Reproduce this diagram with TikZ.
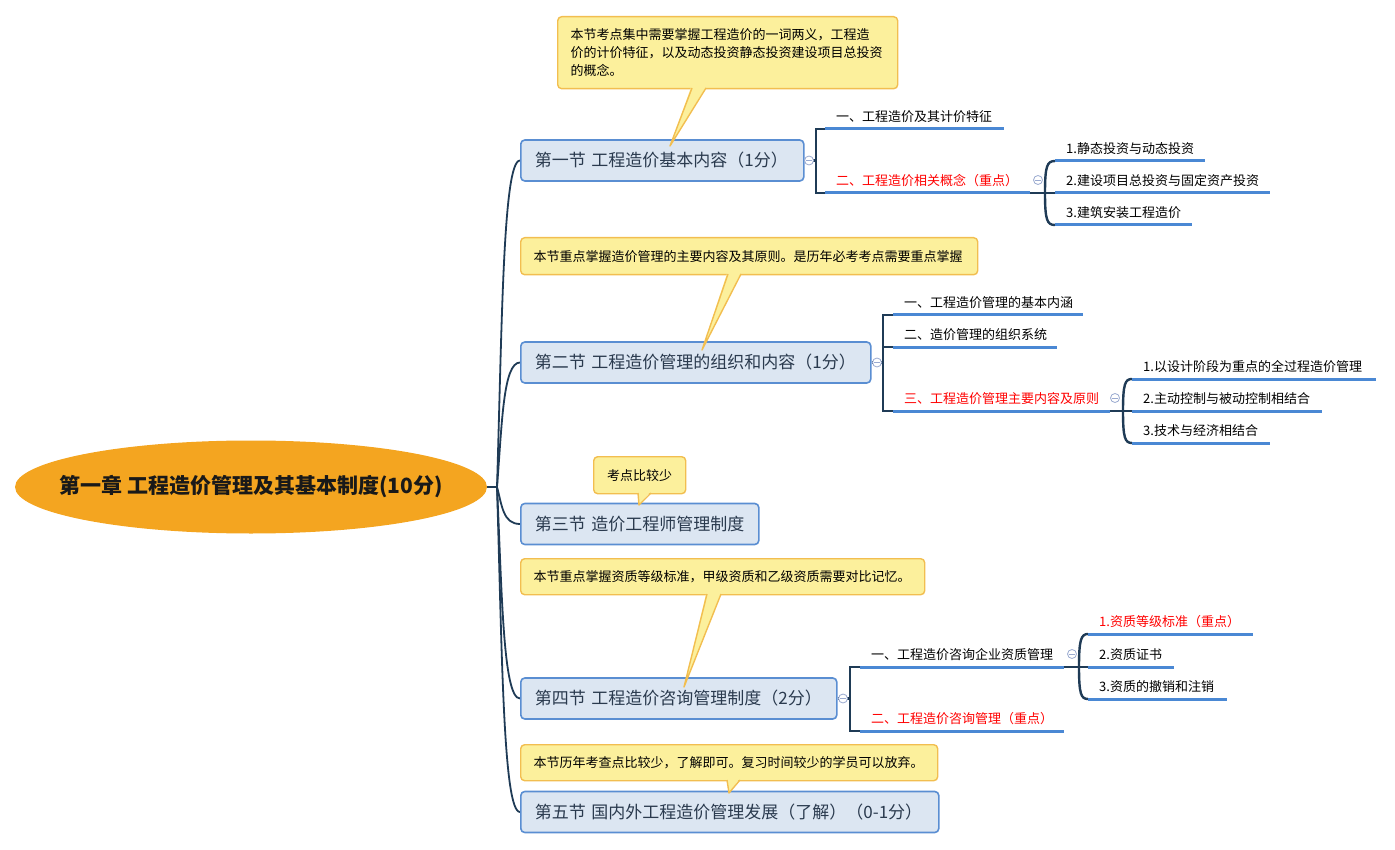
\documentclass[tikz,border=0pt]{standalone}
\usepackage{fontspec}
\setmainfont{Noto Sans CJK SC}
\usetikzlibrary{shapes.geometric,backgrounds}
\definecolor{rootc}{HTML}{F4A520}
\definecolor{secfill}{HTML}{DCE6F2}
\definecolor{secline}{HTML}{5A8ED2}
\definecolor{sectext}{HTML}{2A3A4E}
\definecolor{callfill}{HTML}{FCF09C}
\definecolor{callline}{HTML}{F2BE50}
\definecolor{ulc}{HTML}{4A88D4}
\definecolor{brkc}{HTML}{1F3B56}
\definecolor{kcline}{HTML}{9AAAD0}
\definecolor{hotred}{HTML}{FF0000}
\begin{document}
\begin{tikzpicture}[x=1pt,y=-1pt,
  rootnode/.style={ellipse, fill=rootc, minimum width=472pt, minimum height=93pt, inner sep=0pt, font=\fontsize{21}{25}\selectfont\bfseries, text=black!90},
  secnode/.style={anchor=west, rounded corners=4pt, fill=secfill, draw=secline, line width=1.6pt, inner xsep=14pt, inner ysep=0pt, minimum height=41pt, align=left, text=sectext, font=\fontsize{17}{20}\selectfont},
  itemnode/.style={anchor=west, inner xsep=11pt, inner ysep=0pt, align=left, font=\fontsize{13}{16}\selectfont, text=black},
  hot/.style={text=hotred},
  callnode/.style={anchor=north west, rounded corners=4pt, fill=callfill, draw=callline, line width=1.4pt, inner xsep=13pt, inner ysep=0pt, font=\fontsize{13}{18}\selectfont, align=left, text=black},
  kcnode/.style={circle, draw=kcline, fill=white, line width=0.8pt, minimum size=9pt, inner sep=0pt},
  uline/.style={line width=3pt, draw=ulc},
  brk/.style={line width=2.4pt, draw=brkc},
  trunk/.style={line width=1.8pt, draw=brkc},
  ptr/.style={draw=callline, line width=1.4pt, line join=round}
]
\useasboundingbox (0,0) rectangle (1395,850);

% root
\node[rootnode] (root) at (251,487) {\makebox[0pt]{第一章 工程造价管理及其基本制度(10分)}};
\coordinate (tr) at (497,487);

% sections
\node[secnode, text width=255pt] (s1) at (520,160.5) {第一节 工程造价基本内容（1分）};
\node[secnode, text width=322pt] (s2) at (520,362.5) {第二节 工程造价管理的组织和内容（1分）};
\node[secnode, text width=210pt] (s3) at (520,524) {第三节 造价工程师管理制度};
\node[secnode, text width=288pt] (s4) at (520,698.5) {第四节 工程造价咨询管理制度（2分）};
\node[secnode, text width=390pt] (s5) at (520,812) {第五节 国内外工程造价管理发展（了解）（0-1分）};

% items
\node[itemnode, text width=157pt] (n11) at (825,116.5) {一、工程造价及其计价特征};
\node[itemnode, hot, text width=183pt] (n12) at (825,180.5) {二、工程造价相关概念（重点）};
\node[itemnode, text width=128pt] (n121) at (1055,148.5) {1.静态投资与动态投资};
\node[itemnode, text width=193pt] (n122) at (1055,180.5) {2.建设项目总投资与固定资产投资};
\node[itemnode, text width=115pt] (n123) at (1055,212.5) {3.建筑安装工程造价};

\node[itemnode, text width=168pt] (n21) at (893,302.5) {一、工程造价管理的基本内涵};
\node[itemnode, text width=142pt] (n22) at (893,334.5) {二、造价管理的组织系统};
\node[itemnode, hot, text width=195pt] (n23) at (893,398.5) {三、工程造价管理主要内容及原则};
\node[itemnode, text width=222pt] (n231) at (1132,366.5) {1.以设计阶段为重点的全过程造价管理};
\node[itemnode, text width=168pt] (n232) at (1132,398.5) {2.主动控制与被动控制相结合};
\node[itemnode, text width=116pt] (n233) at (1132,430.5) {3.技术与经济相结合};

\node[itemnode, text width=182pt] (n41) at (860,654.5) {一、工程造价咨询企业资质管理};
\node[itemnode, hot, text width=182pt] (n42) at (860,718.5) {二、工程造价咨询管理（重点）};
\node[itemnode, hot, text width=143pt] (n411) at (1088,621.5) {1.资质等级标准（重点）};
\node[itemnode, text width=64pt] (n412) at (1088,654.5) {2.资质证书};
\node[itemnode, text width=117pt] (n413) at (1088,686.5) {3.资质的撤销和注销};

% collapse circles
\node[kcnode] (k1) at (809,160.5) {};
\node[kcnode] (k12) at (1038,180) {};
\node[kcnode] (k2) at (877,362.5) {};
\node[kcnode] (k23) at (1115,398) {};
\node[kcnode] (k4) at (843,698.5) {};
\node[kcnode] (k41) at (1072,654) {};
\foreach \k in {k1,k12,k2,k23,k4,k41}
  \draw[kcline, line width=0.8pt] ([xshift=-2.6pt]\k.center) -- ([xshift=2.6pt]\k.center);

\begin{scope}[on background layer]
  % trunk
  \draw[trunk] (root.east) -- (tr);
  \draw[trunk] (tr) .. controls (502,324) and (503,160.5) .. (s1.west);
  \draw[trunk] (tr) .. controls (502,425) and (503,362.5) .. (s2.west);
  \draw[trunk] (tr) .. controls (502,505.5) and (503,524) .. (s3.west);
  \draw[trunk] (tr) .. controls (502,593) and (503,698.5) .. (s4.west);
  \draw[trunk] (tr) .. controls (502,649.5) and (503,812) .. (s5.west);
  % section 1
  \coordinate (b1) at (816,160.5);
  \draw[brk] (s1.east) -- (b1);
  \draw[brk] ([yshift=-12.5pt]n11.west) -| (b1) |- ([yshift=-12.5pt]n12.west);
  \coordinate (j1) at (1045,193);
  \draw[brk] ([yshift=-12.5pt]n12.east) -- ([yshift=-12.5pt]n122.west);
  \draw[brk] (j1) .. controls (1045,166) and (1047,161) .. ([yshift=-12.5pt]n121.west);
  \draw[brk] (j1) .. controls (1045,220) and (1047,225) .. ([yshift=-12.5pt]n123.west);
  % section 2
  \coordinate (b2) at (883,362.5);
  \draw[brk] (s2.east) -- (b2);
  \draw[brk] ([yshift=-12.5pt]n21.west) -| (b2) |- ([yshift=-12.5pt]n23.west);
  \draw[brk] ([yshift=-12.5pt]n22.west) -- (883,347);
  \coordinate (j2) at (1123,411);
  \draw[brk] ([yshift=-12.5pt]n23.east) -- ([yshift=-12.5pt]n232.west);
  \draw[brk] (j2) .. controls (1123,384) and (1125,379) .. ([yshift=-12.5pt]n231.west);
  \draw[brk] (j2) .. controls (1123,438) and (1125,443) .. ([yshift=-12.5pt]n233.west);
  % section 4
  \coordinate (b4) at (850,698.5);
  \draw[brk] (s4.east) -- (b4);
  \draw[brk] ([yshift=-12.5pt]n41.west) -| (b4) |- ([yshift=-12.5pt]n42.west);
  \coordinate (j4) at (1079,667);
  \draw[brk] ([yshift=-12.5pt]n41.east) -- ([yshift=-12.5pt]n412.west);
  \draw[brk] (j4) .. controls (1079,640) and (1081,634) .. ([yshift=-12.5pt]n411.west);
  \draw[brk] (j4) .. controls (1079,694) and (1081,699) .. ([yshift=-12.5pt]n413.west);
  % underlines
  \foreach \n in {n11,n12,n121,n122,n123,n21,n22,n23,n231,n232,n233,n41,n42,n411,n412,n413}
    \draw[uline] ([yshift=-12.5pt]\n.west) -- ([yshift=-12.5pt]\n.east);
\end{scope}

% callouts
\node[callnode, minimum width=340pt, minimum height=72pt, text width=314pt] (c1) at (557,16)
  {本节考点集中需要掌握工程造价的一词两义，工程造\\价的计价特征，以及动态投资静态投资建设项目总投资\\的概念。};
\fill[callfill] (691.5,86) -- (670,146) -- (706.5,86) -- cycle;
\draw[ptr] (692,88) -- (670,146) -- (706,88);

\node[callnode, minimum width=457pt, minimum height=37pt, text width=431pt] (c2) at (520,237)
  {本节重点掌握造价管理的主要内容及其原则。是历年必考考点需要重点掌握};
\fill[callfill] (727.5,272) -- (702,350) -- (741.5,272) -- cycle;
\draw[ptr] (728,274) -- (702,350) -- (741,274);

\node[callnode, minimum width=92pt, minimum height=37pt, text width=66pt, align=center] (c3) at (593,456)
  {考点比较少};
\fill[callfill] (638,491) -- (639,505) -- (651,491) -- cycle;
\draw[ptr] (638,493) -- (639,505) -- (651,493);

\node[callnode, minimum width=404pt, minimum height=36pt, text width=378pt] (c4) at (520,558)
  {本节重点掌握资质等级标准，甲级资质和乙级资质需要对比记忆。};
\fill[callfill] (706.5,592) -- (684,687) -- (721.5,592) -- cycle;
\draw[ptr] (707,594) -- (684,687) -- (721,594);

\node[callnode, minimum width=417pt, minimum height=36pt, text width=391pt] (c5) at (520,744)
  {本节历年考查点比较少，了解即可。复习时间较少的学员可以放弃。};
\fill[callfill] (727,778) -- (729,793) -- (740,778) -- cycle;
\draw[ptr] (727,780) -- (729,793) -- (740,780);
\end{tikzpicture}
\end{document}
